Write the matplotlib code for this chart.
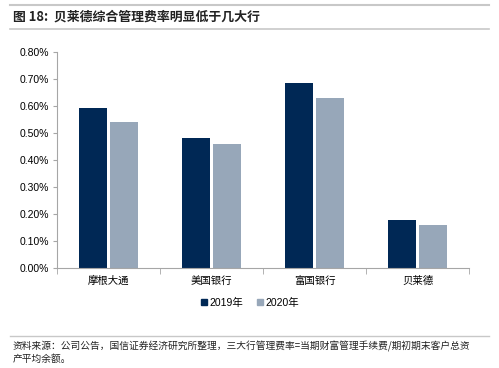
import numpy as np
import matplotlib
matplotlib.use("Agg")
import matplotlib.pyplot as plt
from matplotlib.ticker import FuncFormatter
from matplotlib.lines import Line2D

plt.rcParams['font.family'] = ['Noto Sans CJK SC', 'DejaVu Sans']

banks = ["摩根大通", "美国银行", "富国银行", "贝莱德"]
fee2019 = [0.593, 0.48, 0.684, 0.177]
fee2020 = [0.542, 0.458, 0.631, 0.158]
years = ["2019年", "2020年"]
yticks = [0.0, 0.1, 0.2, 0.3, 0.4, 0.5, 0.6, 0.7, 0.8]

c19 = "#002855"
c20 = "#97a7b9"
axcol = "#a6a6a6"

fig = plt.figure(figsize=(4.99, 3.68), dpi=100)
ax = fig.add_axes([0.1142, 0.2726, 0.8257, 0.5861])

x = np.arange(len(banks))
w = 0.275
ax.bar(x - 0.153, fee2019, w, color=c19, label=years[0])
ax.bar(x + 0.153, fee2020, w, color=c20, label=years[1])

ax.set_xlim(-0.5, len(banks) - 0.5)
ax.set_ylim(0, 0.8)
ax.set_yticks(yticks)
ax.yaxis.set_major_formatter(FuncFormatter(lambda v, p: "%.2f%%" % v))
ax.set_xticks(x)
ax.set_xticklabels(banks, fontsize=7.5)
ax.set_xticks(np.arange(-0.5, len(banks)), minor=True)
ax.tick_params(axis="x", which="major", length=0, pad=6)
ax.tick_params(axis="x", which="minor", length=4, color=axcol, direction="out")
ax.tick_params(axis="y", length=3, color=axcol, labelsize=7.5, pad=3)
for lab in ax.get_yticklabels():
    lab.set_family(["Liberation Sans", "DejaVu Sans"])

for s in ["top", "right"]:
    ax.spines[s].set_visible(False)
ax.spines["left"].set_color(axcol)
ax.spines["bottom"].set_color(axcol)

handles = [Line2D([], [], marker="s", linestyle="", color=c19, markersize=4.5),
           Line2D([], [], marker="s", linestyle="", color=c20, markersize=4.5)]
leg = fig.legend(handles, years, loc="center", bbox_to_anchor=(0.5, 0.177), ncol=2,
                 frameon=False, fontsize=7.5, handletextpad=0.1, columnspacing=1.2,
                 handlelength=0.8)
for t in leg.get_texts():
    t.set_family(["Liberation Sans", "Noto Sans CJK SC"])

# title bar lines
fig.add_artist(Line2D([0.02, 0.98], [1 - 5 / 368, 1 - 5 / 368], color="#c8c8c8", lw=1.5))
fig.add_artist(Line2D([0.02, 0.98], [1 - 29 / 368, 1 - 29 / 368], color="#c8c8c8", lw=1.2))
fig.add_artist(Line2D([0.02, 0.98], [1 - 336 / 368, 1 - 336 / 368], color="#c8c8c8", lw=1.0))

fig.text(0.026, 1 - 17 / 368, "图 18:  贝莱德综合管理费率明显低于几大行", fontsize=9.3,
         fontweight="bold", va="center", ha="left", color="#222222")
fig.text(0.026, 1 - 346 / 368,
         "资料来源：公司公告，国信证券经济研究所整理，三大行管理费率=当期财富管理手续费/期初期末客户总资",
         fontsize=7.0, va="center", ha="left", color="#222222")
fig.text(0.026, 1 - 359 / 368, "产平均余额。", fontsize=7.0, va="center", ha="left", color="#222222")

fig.savefig("out.png", dpi=100)
